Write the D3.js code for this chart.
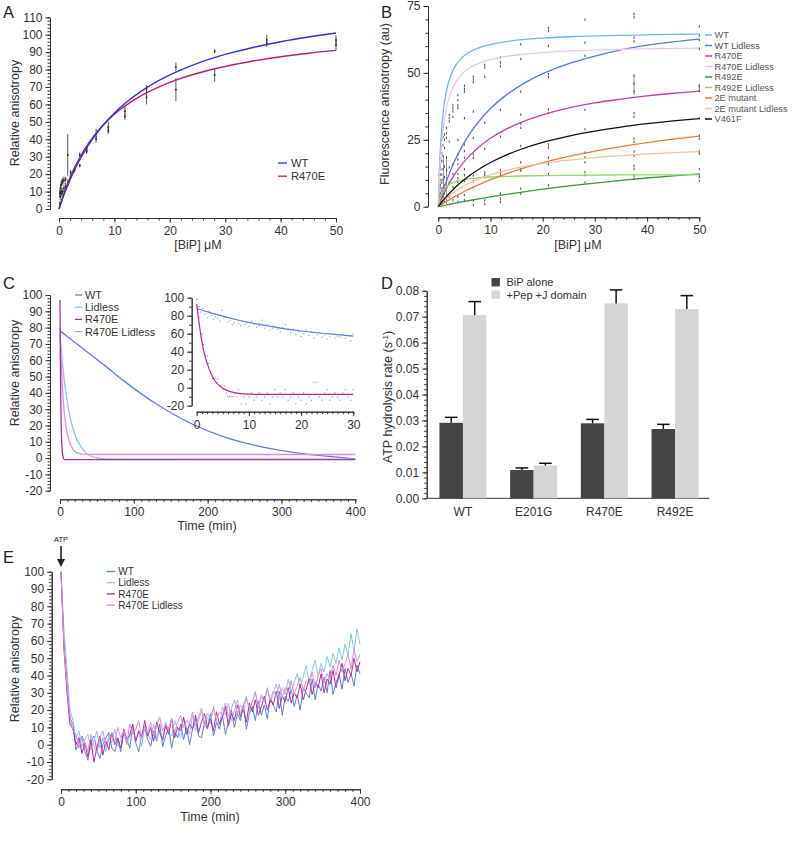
<!DOCTYPE html>
<html><head><meta charset="utf-8">
<script src="https://cdn.jsdelivr.net/npm/d3@7"></script>
<style>
body{margin:0;background:#fff;}
svg{font-family:'Liberation Sans',Arial,sans-serif;}
.ax path,.ax line{stroke:#333;stroke-width:1;}
.ax text{font-family:'Liberation Sans',Arial,sans-serif;font-size:12px;fill:#333;}
.lbl{font-size:12.5px;fill:#333;}
.let{font-size:16.5px;fill:#222;}
</style></head><body>
<script>
// ---------- Panel A ----------
const aConc = [50,37.5,28.1,21.1,15.8,11.9,8.9,6.7,5.0,3.75,2.8,2.1,1.58,1.19,0.89,0.67,0.5,0.38,0.28,0.21,0.16];
const aWTMean = [97,97,90.5,81.5,69,56,47,43,34.5,31,23,21,31,17,16.5,16,15,14,12,10,9];
const aWTErr  = [2.5,3,1.2,2.5,2,3,3,3,2,1.5,1.5,1.5,12,1.5,2,2,2,2,2,2,2];
const aRMean  = [94,95,77,68.5,64,53,45,40,33,25,22,19,15,13,12,10,9,10,9,7,3];
const aRErr   = [3,2,4,6.5,4,2,2,2,1.5,1,1,1.5,2,2,2,2,2,2,2,2,1.5];
const aFitX   = [0,0.5,1,2,3,4,5,6,8,10,12,15,20,25,30,35,40,45,50];
const aFitWT  = [0,4.7,9.0,16.8,23.7,29.7,35.1,39.9,48.2,55.1,60.8,67.9,76.9,83.6,88.7,92.7,96.0,98.7,101.0];
const aFitR   = [0,5.2,9.8,18.0,25.0,31.0,36.2,40.7,48.3,54.4,59.3,65.3,72.7,77.9,81.8,84.9,87.4,89.4,91.0];
const aSeries = ['WT','R470E'];

// ---------- Panel B ----------
const bSeries = ['WT','WT Lidless','R470E','R470E Lidless','R492E','R492E Lidless','2E mutant','2E mutant Lidless','V461F'];
const bFitX = [0,0.25,0.5,1,1.5,2,3,4,6,8,10,13,16,20,25,30,35,40,45,50];
const bFitWT   = [0,15.6,25.2,36.4,42.7,46.8,51.7,54.6,57.8,59.5,60.6,61.7,62.4,63.0,63.5,63.8,64.0,64.2,64.4,64.5];
const bFitWTL  = [0,1.7,3.35,6.4,9.2,11.8,16.5,20.5,27.2,32.4,36.7,41.7,45.6,49.7,53.5,56.3,58.6,60.4,61.6,62.6];
const bFitR470 = [0,1.2,2.4,4.6,6.6,8.4,11.7,14.5,19.1,22.7,25.6,29.0,31.6,34.3,36.9,38.8,40.2,41.4,42.4,43.2];
const bFitR470L= [0,12.1,20.2,30.25,36.3,40.3,45.4,48.4,51.9,53.8,55.0,56.2,56.9,57.6,58.2,58.5,58.8,59.0,59.2,59.3];
const bFitR492 = [0,0.1,0.21,0.41,0.62,0.82,1.21,1.59,2.32,3.02,3.68,4.61,5.47,6.54,7.75,8.84,9.83,10.72,11.54,12.29];
const bFitR492L= [0,2.44,4.07,6.1,7.32,8.13,9.15,9.76,10.46,10.84,11.09,11.33,11.48,11.62,11.73,11.81,11.86,11.9,11.93,11.96];
const bFit2E   = [0,0.32,0.64,1.27,1.88,2.47,3.6,4.68,6.66,8.46,10.09,12.28,14.2,16.43,18.79,20.78,22.49,23.96,25.24,26.37];
const bFit2EL  = [0,0.56,1.09,2.09,3.01,3.86,5.38,6.69,8.86,10.57,11.95,13.6,14.87,16.19,17.43,18.37,19.1,19.69,20.17,20.57];
const bFitV461 = [0,0.65,1.29,2.5,3.65,4.74,6.74,8.55,11.68,14.3,16.53,19.3,21.56,24.0,26.39,28.26,29.77,31.01,32.05,32.93];
const bConc = [50,37.5,28.1,21.1,15.8,11.9,8.9,6.7,5.0,3.75,2.8,2.1,1.58,1.19,0.89,0.67,0.5,0.38,0.28,0.21,0.16];
const bVals = [
 [67.4,64,62.3,59,45,43.2,33,26.6,25.4,20.6,19.8,14,12,11,9.6],
 [72,70.8,63.2,61.8,49,46,43,35,33.6,25.4,24.2,20.6,19.1,15.3,14.1,11.6,10.4],
 [69.9,61.3,56.4,36.2,28.9,20.2,18.4,16.6,13,11.8,9.1],
 [66.8,65.6,60,49.6,48.4,36.4,35,23.3,22.1,18.3,15.9,12.2,7.9],
 [60.7,55.2,43,34.4,31,29.5,22.7,16.6,14,13.5,6.7,4.9],
 [55.8,53.9,52.5,36.2,26.2,13.5,12.5,11.6,4.9,3,1.8],
 [53,52,48.5,31.4,21.6,12.8,11.9,11,2.4,1],
 [48.6,47.5,46.5,35.6,25.6,19.5,18.3,11.6,9.5,7.3,2.4,0.6],
 [45.2,44,43,33.1,23.3,20.8,18.3,14,11.8,9.6,4.3,2.4],
 [41.7,39.8,37.9,36.8,24.9,19.5,17.7,15.9,12.2,10.7,9.1,3.7,1.8],
 [37.9,36.8,35.6,33.6,15.9,12.2,7.3,2.4],
 [34.3,33.1,31.9,24.4,14.7,9.1,3.7],
 [29.4,27.5,25.7,18.3,13.5,7.3,3],
 [27,25,22,15,11,8,5,2],
 [26,23,19,14,10,7,4,1.5],
 [25,20,17,12,9,6,3,1],
 [22,18,14,10,7,4,2],
 [18,15,12,8,5,3,1],
 [16,12,9,6,3,1],
 [14,10,7,4,2,0.5],
 [12,8,5,2,0.5]
];
const bLongBars = [[1.58,1,19],[37.5,41.7,49.1],[50,43,46],[1.0,3,19]];

// ---------- Panel C ----------
const cSeries = ['WT','Lidless','R470E','R470E Lidless'];
const cWTx = [0,20,40,60,86,131,176,222,267,312,357,400];
const cWTy = [78,71,64,57,47.5,33,21.5,13,7.5,3.8,1.3,-0.5];
const cLidx = [0,3,6,9,12,15,18,21,25,30,35,40,50,60,400];
const cLidy = [76,60,47,37,29,22.5,17.5,13.5,9.5,6,3.2,1.6,0.2,-0.5,-0.7];
const cRx = [0,0.5,1,1.5,2,3,4,5,8,400];
const cRy = [97,60,37,22,13,4.5,1,-0.5,-1,-1];
const cRLx = [0,1.5,3,4.5,6,9,12,15,18,22,27,35,50,400];
const cRLy = [80,60,46,35,27,17,11,7.5,5,3.5,2.8,2.3,2.2,2.2];
// inset
const iWTx = [0,2.5,5,7.5,10,15,20,25,30];
const iWTy = [88,83.5,79.5,75.8,72.6,67.3,63,60,57.4];
const iRx = [0,0.5,1,1.5,2,3,4,5,6,8,10,15,30];
const iRy = [93,70,51,37,27,12.5,4,-0.5,-3.5,-6.3,-7.2,-7.5,-7.5];
const iWTptx = [0.2,0.5,0.8,1.2,1.6,2,2.4,2.8,3.2,3.6,4,4.4,4.8,5.2,5.6,6,6.4,6.8,7.2,7.6,8,8.4,8.8,9.2,9.6,10,10.5,11,11.5,12,12.5,13,13.5,14,14.5,15,15.5,16,16.5,17,17.5,18,18.5,19,19.5,20,20.5,21,21.5,22,22.5,23,23.5,24,24.5,25,25.5,26,26.5,27,27.5,28,28.5,29,29.5,30];
const iWTpty = [98,90,84,88,82,78,85,80,76,79,77,74,86,78,78,73,75,70,72,76,71,69,74,70,72,68,74,71,67,69,75,66,70,64,66,68,65,62,67,70,64,61,66,59,62,57,60,64,58,62,55,59,61,56,58,54,57,60,55,57,56,59,55,58,52,60];
const iRptx = [0,0.3,0.6,1,1.3,1.7,2,2.3,2.7,3,3.3,3.7,4,4.3,4.7,5,5.3,5.7,6,6.3,6.7,7,7.3,7.7,8,8.5,9,9.5,10,10.5,11,11.5,12,12.5,13,13.5,14,14.5,15,15.5,16,16.5,17,17.5,18,18.5,19,19.5,20,20.5,21,21.5,22,22.5,23,23.5,24,24.5,25,25.5,26,26.5,27,27.5,28,28.5,29,29.5,30];
const iRpty = [98,90,78,60,48,36,35,27,18,10,10,10,10,2,2,-2,2,-6,-10,-10,-10,-10,-6,-10,-2,-18,-10,-18,-10,-6,-14,-10,-6,-14,-10,-6,-18,-10,-2,-10,-6,-10,-2,-14,-10,-6,-18,-10,-14,-6,-18,-10,-14,6,6,-10,-14,-6,-2,-14,-10,-6,-10,-14,-6,-2,-10,-14,-2];

// ---------- Panel D ----------
const dCats = ['WT','E201G','R470E','R492E'];
const dGroups = ['BiP alone','+Pep +J domain'];
const dAlone = [0.0291,0.0109,0.0289,0.0267];
const dAloneErr = [0.0021,0.0008,0.0015,0.0018];
const dPep = [0.0706,0.0126,0.0751,0.0729];
const dPepErr = [0.0052,0.0009,0.0052,0.0052];

// ---------- Panel E ----------
const eSeries = ['WT','Lidless','R470E','R470E Lidless'];
const eTime = [0,4,8,12,16,20,24,28,32,36,40,44,48,52,56,60,64,68,72,76,80,84,88,92,96,100,104,108,112,116,120,124,128,132,136,140,144,148,152,156,160,164,168,172,176,180,184,188,192,196,200,204,208,212,216,220,224,228,232,236,240,244,248,252,256,260,264,268,272,276,280,284,288,292,296,300,304,308,312,316,320,324,328,332,336,340,344,348,352,356,360,364,368,372,376,380,384,388,392,396,400];
const eWT = [100,58,37,15,12,-3,2,5,-4,-9, 2,5,-3,-8,0,4,7,-2,-4,3, -4,7,3,-2,11,1,-4,6,10,3, -1,8,2,12,-1,5,10,-2,8,4, 12,3,10,0,9,15,5,4,13,9, 18,5,13,9,17,6,13,20,10,18, 14,23,9,18,22,14,25,17,23,15, 27,23,19,31,17,28,25,32,22,29, 20,33,30,27,38,26,35,31,39,30, 43,29,36,41,32,44,36,41,34,46, 41];
const eLid = [100,66,44,20,14,4,8,-1,3,6, -3,2,8,-2,4,-4,6,1,9,-1, 3,8,0,5,10,2,7,-1,11,6, 3,12,4,8,2,13,7,5,14,9, 4,15,10,6,17,8,14,19,10,16, 12,21,14,11,22,17,24,14,20,26, 18,23,28,19,25,31,21,29,25,33, 24,30,35,27,33,29,38,31,36,41, 33,39,46,36,43,49,40,47,42,51, 45,53,47,56,49,58,52,64,54,67, 58];
const eR = [100,55,30,12,9,0,4,-5,1,-7, 3,-10,-2,5,-6,2,-3,7,0,4, -2,9,3,6,12,2,8,4,14,5, 10,2,13,7,3,11,6,15,4,10, 8,16,6,12,9,17,7,13,18,10, 15,8,19,12,16,22,11,18,14,23, 16,21,13,24,19,26,17,22,28,20, 26,23,31,21,28,25,33,24,30,27, 35,26,32,38,29,36,33,41,30,38, 35,43,33,40,47,37,44,40,50,42, 48];
const eRL = [100,57,34,17,8,6,-2,5,1,-4, 6,0,-5,4,8,-1,3,7,2,10, 4,8,1,12,6,9,14,3,10,7, 13,5,11,16,8,12,9,15,7,13, 17,10,14,12,19,11,16,21,13,18, 15,22,14,19,17,24,16,21,26,18, 23,20,27,21,25,30,22,28,25,32, 26,31,28,35,27,33,30,37,29,34, 39,31,37,35,42,33,40,44,36,41, 38,46,40,49,42,47,52,44,55,48, 52];

// ---------- colours ----------
const colA = {'WT':'#2f33cf','R470E':'#b3226a'};
const colB = ['#6ab8e6','#4f80dc','#c042a8','#efc4ea','#3a993a','#8ad86a','#e27e3e','#f3c2a2','#111111'];
const colCE = ['#5b7fe0','#82c8ee','#b22d9c','#e58ad6'];

const svg = d3.select('body').append('svg').attr('width',792).attr('height',843);

function axisY(scale,x,majors,minors,fmt){
  const g = svg.append('g').attr('class','ax').attr('transform',`translate(${x},0)`);
  g.append('g').call(d3.axisLeft(scale).tickValues(minors).tickSize(2.5).tickSizeOuter(0).tickFormat(''));
  g.append('g').call(d3.axisLeft(scale).tickValues(majors).tickSize(4.5).tickSizeOuter(0).tickPadding(3).tickFormat(fmt));
}
function axisX(scale,y,majors,minors,fmt){
  const g = svg.append('g').attr('class','ax').attr('transform',`translate(0,${y})`);
  g.append('g').call(d3.axisBottom(scale).tickValues(minors).tickSize(2.5).tickSizeOuter(0).tickFormat(''));
  g.append('g').call(d3.axisBottom(scale).tickValues(majors).tickSize(4.5).tickSizeOuter(0).tickPadding(4).tickFormat(fmt));
}
const S = d => String(d);
function letter(t,x,y){svg.append('text').attr('class','let').attr('x',x).attr('y',y).text(t);}
function ytitle(t,x,cy){svg.append('text').attr('class','lbl').attr('transform',`translate(${x},${cy}) rotate(-90)`).attr('text-anchor','middle').text(t);}
function xtitle(t,cx,y){svg.append('text').attr('class','lbl').attr('x',cx).attr('y',y).attr('text-anchor','middle').text(t);}
function curve(xs,ys,sx,sy,color,w){
  const pts = xs.map((x,i)=>[x,ys[i]]);
  svg.append('path').datum(pts).attr('fill','none').attr('stroke',color).attr('stroke-width',w||1.3)
    .attr('d',d3.line().x(d=>sx(d[0])).y(d=>sy(d[1])).curve(d3.curveMonotoneX));
}
function legendLine(items,colors,x1,x2,tx,ys,size,fill,sw){
  items.forEach((s,i)=>{
    svg.append('line').attr('x1',x1).attr('x2',x2).attr('y1',ys[i]).attr('y2',ys[i]).attr('stroke',colors[i]).attr('stroke-width',sw||1.3);
    svg.append('text').attr('x',tx).attr('y',ys[i]+size*0.36).style('font-size',size+'px').attr('fill',fill||'#333').text(s);
  });
}

// ===== A =====
const xA = d3.scaleLinear().domain([0,50]).range([59,336]);
const yA = d3.scaleLinear().domain([0,110]).range([209,17.3]);
axisY(yA,50,d3.range(0,111,10),d3.range(0,111,2),S);
axisX(xA,218,d3.range(0,51,10),d3.range(0,51,2),S);
letter('A',3,18);
ytitle('Relative anisotropy',19,113);
xtitle('[BiP] μM',198,249);
[[aWTMean,aWTErr],[aRMean,aRErr]].forEach(([m,e])=>{
  aConc.forEach((c,i)=>{
    svg.append('line').attr('x1',xA(c)).attr('x2',xA(c)).attr('y1',yA(m[i]-e[i])).attr('y2',yA(m[i]+e[i]))
      .attr('stroke','#444').attr('stroke-width',0.9);
    svg.append('rect').attr('x',xA(c)-0.8).attr('y',yA(m[i])-0.8).attr('width',1.6).attr('height',1.6).attr('fill','#222');
  });
});
curve(aFitX,aFitR,xA,yA,colA['R470E'],1.4);
curve(aFitX,aFitWT,xA,yA,colA['WT'],1.4);
legendLine(aSeries,aSeries.map(s=>colA[s]),278,287,291,[163,176.2],11.2);

// ===== B =====
const xB = d3.scaleLinear().domain([0,50]).range([438.3,699.3]);
const yB = d3.scaleLinear().domain([0,75]).range([206.7,6]);
axisY(yB,428,[0,25,50,75],d3.range(0,76,5),S);
axisX(xB,217.3,d3.range(0,51,10),d3.range(0,51,2),S);
letter('B',381,18);
ytitle('Fluorescence anisotropy (au)',389,104);
xtitle('[BiP] μM',578,249);
bLongBars.forEach(b=>{
  svg.append('line').attr('x1',xB(b[0])).attr('x2',xB(b[0])).attr('y1',yB(b[1])).attr('y2',yB(b[2])).attr('stroke','#777').attr('stroke-width',0.8);
});
bConc.forEach((c,i)=>{
  bVals[i].forEach(v=>{
    svg.append('line').attr('x1',xB(c)).attr('x2',xB(c)).attr('y1',yB(v)-1.2).attr('y2',yB(v)+1.2).attr('stroke','#333').attr('stroke-width',0.9);
  });
});
[bFitWT,bFitWTL,bFitR470,bFitR470L,bFitR492,bFitR492L,bFit2E,bFit2EL,bFitV461].forEach((ys,i)=>{
  curve(bFitX,ys,xB,yB,colB[i],1.3);
});
legendLine(bSeries,colB,705,712,714.5,[35,45.5,56,66.5,77,87.5,98,108.5,119],9.2,'#555',1.5);

// ===== C =====
const xC = d3.scaleLinear().domain([0,400]).range([60,355.3]);
const yC = d3.scaleLinear().domain([-20,100]).range([490.7,295]);
axisY(yC,50,d3.range(-20,101,10),d3.range(-20,101,2),S);
axisX(xC,499.3,d3.range(0,401,100),d3.range(0,401,10),S);
letter('C',3,289);
ytitle('Relative anisotropy',19,373);
xtitle('Time (min)',207,530);
curve(cWTx,cWTy,xC,yC,colCE[0],1.3);
curve(cLidx,cLidy,xC,yC,colCE[1],1.3);
curve(cRLx,cRLy,xC,yC,colCE[3],1.3);
curve(cRx,cRy,xC,yC,colCE[2],1.3);
legendLine(cSeries,colCE,75,82,85,[295,307.2,319.4,331.6],10.9);
// inset
const xI = d3.scaleLinear().domain([0,30]).range([196.7,353.3]);
const yI = d3.scaleLinear().domain([-20,100]).range([405.7,297.7]);
axisY(yI,191.7,d3.range(-20,101,20),d3.range(-20,101,10),S);
axisX(xI,411.7,[0,10,20,30],d3.range(0,31,1),S);
iWTptx.forEach((x,i)=>svg.append('rect').attr('x',xI(x)-0.6).attr('y',yI(iWTpty[i])-0.6).attr('width',1.2).attr('height',1.2).attr('fill','#8fa6ea'));
iRptx.forEach((x,i)=>svg.append('rect').attr('x',xI(x)-0.6).attr('y',yI(iRpty[i])-0.6).attr('width',1.2).attr('height',1.2).attr('fill','#d27cc4'));
curve(iWTx,iWTy,xI,yI,colCE[0],1.2);
curve(iRx,iRy,xI,yI,colCE[2],1.2);

// ===== D =====
const yD = d3.scaleLinear().domain([0,0.08]).range([498.3,290.7]);
const xD = d3.scaleBand().domain(dCats).range([427.6,710.4]).paddingInner(0.335).paddingOuter(0.1675);
const xD2 = d3.scaleBand().domain(dGroups).range([0,xD.bandwidth()]);
axisY(yD,426.7,d3.range(0,0.0801,0.01),d3.range(0,0.0801,0.002),d3.format('.2f'));
{
  const g = svg.append('g').attr('class','ax').attr('transform','translate(0,498.3)');
  g.append('line').attr('x1',426.7).attr('x2',709.3).attr('y1',0).attr('y2',0);
  g.selectAll('text.cat').data(dCats).enter().append('text').attr('class','cat')
    .attr('x',d=>xD(d)+xD.bandwidth()/2).attr('y',18).attr('text-anchor','middle').text(d=>d);
}
letter('D',381,289);
{
  const t = svg.append('text').attr('class','lbl').attr('transform','translate(392,397) rotate(-90)').attr('text-anchor','middle');
  t.append('tspan').text('ATP hydrolysis rate (s');
  t.append('tspan').attr('dy',-4).style('font-size','8px').text('-1');
  t.append('tspan').attr('dy',4).text(')');
}
const dSets = [[dAlone,dAloneErr,'#444444'],[dPep,dPepErr,'#d5d5d5']];
dSets.forEach(([vals,errs,col],k)=>{
  dCats.forEach((c,i)=>{
    const x0 = xD(c)+xD2(dGroups[k]);
    const w = xD2.bandwidth();
    svg.append('rect').attr('x',x0).attr('y',yD(vals[i])).attr('width',w).attr('height',yD(0)-yD(vals[i])).attr('fill',col);
    const cx = x0+w/2;
    svg.append('line').attr('x1',cx).attr('x2',cx).attr('y1',yD(vals[i])).attr('y2',yD(vals[i]+errs[i])).attr('stroke','#111').attr('stroke-width',1.5);
    svg.append('line').attr('x1',cx-6.3).attr('x2',cx+6.3).attr('y1',yD(vals[i]+errs[i])).attr('y2',yD(vals[i]+errs[i])).attr('stroke','#111').attr('stroke-width',1.5);
  });
});
dGroups.forEach((s,i)=>{
  const y = 282.2 + i*12.4;
  svg.append('rect').attr('x',491.5).attr('y',y-4.2).attr('width',8.4).attr('height',8.4).attr('fill',dSets[i][2]);
  svg.append('text').attr('x',506.5).attr('y',y+4).style('font-size','11px').attr('fill','#333').text(s);
});

// ===== E =====
const xE = d3.scaleLinear().domain([0,400]).range([61,360]);
const yE = d3.scaleLinear().domain([-20,100]).range([779.3,571.7]);
axisY(yE,51.7,d3.range(-20,101,10),d3.range(-20,101,2),S);
axisX(xE,789.3,d3.range(0,401,100),d3.range(0,401,10),S);
letter('E',3,563);
ytitle('Relative anisotropy',19,669);
xtitle('Time (min)',210,821);
[eWT,eLid,eR,eRL].forEach((ys,i)=>{
  const pts = eTime.map((t,j)=>[t,ys[j]]);
  svg.append('path').datum(pts).attr('fill','none').attr('stroke',colCE[i]).attr('stroke-width',1)
    .attr('d',d3.line().x(d=>xE(d[0])).y(d=>yE(d[1])));
});
legendLine(eSeries,colCE,106.7,115,118.3,[571.5,582.7,593.9,605.1],10);
svg.append('text').attr('x',xE(0)).attr('y',542).attr('text-anchor','middle').style('font-size','7.5px').attr('fill','#222').text('ATP');
svg.append('line').attr('x1',xE(0)).attr('x2',xE(0)).attr('y1',546).attr('y2',561).attr('stroke','#222').attr('stroke-width',1.6);
svg.append('path').attr('d',`M${xE(0)-4},${559} L${xE(0)+4},${559} L${xE(0)},${567} Z`).attr('fill','#222');
</script>
</body></html>
